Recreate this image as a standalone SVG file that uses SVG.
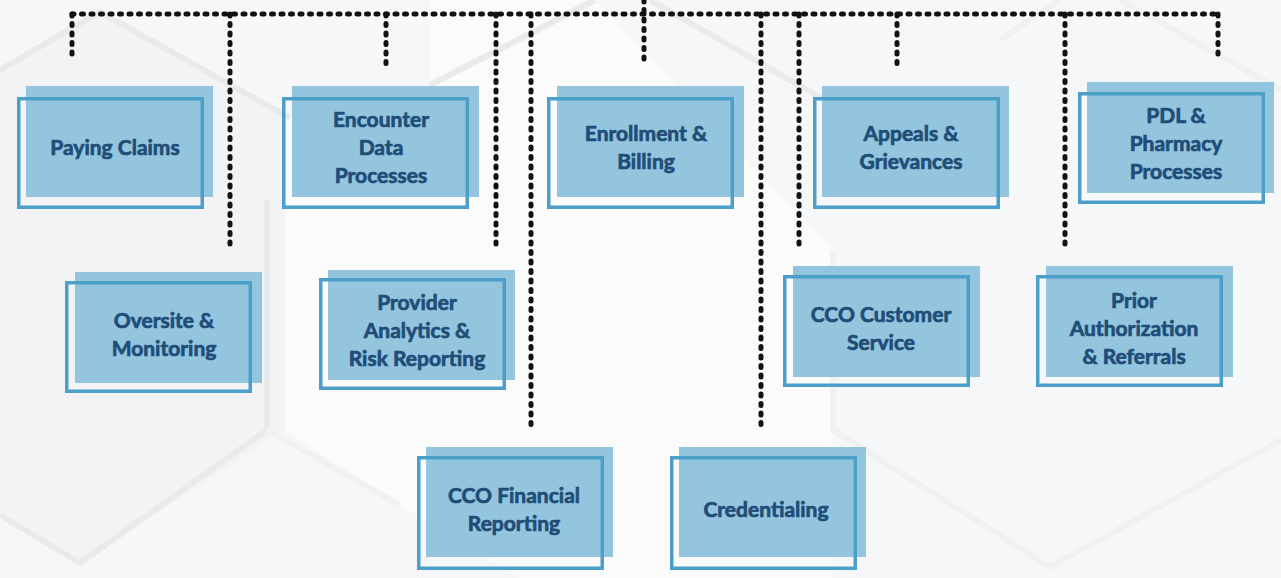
<svg xmlns="http://www.w3.org/2000/svg" width="1281" height="578" viewBox="0 0 1281 578">
<style>
.bgline{fill:none;stroke:#e9eaec;stroke-width:6;stroke-linejoin:miter}
.conn{fill:none;stroke:#111;stroke-width:5;stroke-linecap:round;stroke-dasharray:2 7.5}
.fill{fill:#93c5de}
.outl{fill:none;stroke:#4b9fc9;stroke-width:3.5}
.lbl{font-family:Lato,"Liberation Sans",sans-serif;font-weight:700;font-size:21px;fill:#1f4d78;stroke:#1f4d78;stroke-width:0.7;text-anchor:middle}
</style>
<rect x="0" y="0" width="1281" height="578" fill="#f6f7f8"/>
<g id="background">
<polygon points="0,70 100,12 285,118 285,430 80,563 0,515" fill="#f2f3f4"/>
<polygon points="285,118 285,430 400,505 520,578 833,578 833,250 595,0 430,0 430,85" fill="#fbfbfc"/>
<polyline class="bgline" points="0,70 100,12 290,118"/>
<polyline class="bgline" points="267,200 267,430 80,563 0,515"/>
<polyline class="bgline" points="267,430 400,505" style="stroke:#f0f1f2"/>
<polyline class="bgline" points="430,85 595,0"/>
<polyline class="bgline" points="650,0 860,120"/>
<polyline class="bgline" points="833,250 833,430 1050,567 1281,440" style="stroke:#f0f1f2"/>
<polyline class="bgline" points="1000,40 1060,0" style="stroke:#f0f1f2"/>
<polyline class="bgline" points="1120,0 1281,90" style="stroke:#f0f1f2"/>
</g>
<g id="connectors">
<line class="conn" x1="72" y1="14" x2="1218" y2="14"/>
<line class="conn" x1="72" y1="14" x2="72" y2="60"/>
<line class="conn" x1="230" y1="14" x2="230" y2="245"/>
<line class="conn" x1="386" y1="14" x2="386" y2="66"/>
<line class="conn" x1="496" y1="14" x2="496" y2="245"/>
<line class="conn" x1="531" y1="14" x2="531" y2="428"/>
<line class="conn" x1="644" y1="0" x2="644" y2="62"/>
<line class="conn" x1="761" y1="14" x2="761" y2="428"/>
<line class="conn" x1="799" y1="14" x2="799" y2="248"/>
<line class="conn" x1="897" y1="14" x2="897" y2="66"/>
<line class="conn" x1="1065" y1="14" x2="1065" y2="248"/>
<line class="conn" x1="1218" y1="14" x2="1218" y2="60"/>
</g>
<g id="paying-claims">
<rect class="fill" x="26" y="86" width="187" height="111"/>
<rect class="outl" x="18.75" y="98.75" width="183.5" height="108.5"/>
<text class="lbl" x="115" y="155">Paying Claims</text>
</g>
<g id="encounter-data">
<rect class="fill" x="292" y="86" width="187" height="111"/>
<rect class="outl" x="283.75" y="98.75" width="183.5" height="108.5"/>
<text class="lbl" x="381" y="127"><tspan x="381">Encounter</tspan><tspan x="381" dy="28">Data</tspan><tspan x="381" dy="28">Processes</tspan></text>
</g>
<g id="enrollment-billing">
<rect class="fill" x="557" y="86" width="187" height="111"/>
<rect class="outl" x="548.75" y="98.75" width="183.5" height="108.5"/>
<text class="lbl" x="646" y="141"><tspan x="646">Enrollment &amp;</tspan><tspan x="646" dy="28">Billing</tspan></text>
</g>
<g id="appeals-grievances">
<rect class="fill" x="822" y="86" width="187" height="111"/>
<rect class="outl" x="814.75" y="98.75" width="183.5" height="108.5"/>
<text class="lbl" x="911" y="141"><tspan x="911">Appeals &amp;</tspan><tspan x="911" dy="28">Grievances</tspan></text>
</g>
<g id="pdl-pharmacy">
<rect class="fill" x="1087" y="82" width="187" height="111"/>
<rect class="outl" x="1079.75" y="93.75" width="183.5" height="108.5"/>
<text class="lbl" x="1176" y="123"><tspan x="1176">PDL &amp;</tspan><tspan x="1176" dy="28">Pharmacy</tspan><tspan x="1176" dy="28">Processes</tspan></text>
</g>
<g id="oversite-monitoring">
<rect class="fill" x="75" y="272" width="187" height="111"/>
<rect class="outl" x="66.75" y="282.75" width="183.5" height="108.5"/>
<text class="lbl" x="164" y="328"><tspan x="164">Oversite &amp;</tspan><tspan x="164" dy="28">Monitoring</tspan></text>
</g>
<g id="provider-analytics">
<rect class="fill" x="328" y="270" width="187" height="110"/>
<rect class="outl" x="320.75" y="279.75" width="183.5" height="108.5"/>
<text class="lbl" x="417" y="310"><tspan x="417">Provider</tspan><tspan x="417" dy="28">Analytics &amp;</tspan><tspan x="417" dy="28">Risk Reporting</tspan></text>
</g>
<g id="cco-customer-service">
<rect class="fill" x="793" y="266" width="187" height="111"/>
<rect class="outl" x="784.75" y="276.75" width="183.5" height="108.5"/>
<text class="lbl" x="881" y="322"><tspan x="881">CCO Customer</tspan><tspan x="881" dy="28">Service</tspan></text>
</g>
<g id="prior-authorization">
<rect class="fill" x="1046" y="266" width="187" height="111"/>
<rect class="outl" x="1037.75" y="276.75" width="183.5" height="108.5"/>
<text class="lbl" x="1134" y="308"><tspan x="1134">Prior</tspan><tspan x="1134" dy="28">Authorization</tspan><tspan x="1134" dy="28">&amp; Referrals</tspan></text>
</g>
<g id="cco-financial-reporting">
<rect class="fill" x="426" y="447" width="187" height="110"/>
<rect class="outl" x="418.75" y="457.75" width="183.5" height="110.5"/>
<text class="lbl" x="514" y="503"><tspan x="514">CCO Financial</tspan><tspan x="514" dy="28">Reporting</tspan></text>
</g>
<g id="credentialing">
<rect class="fill" x="679" y="447" width="187" height="110"/>
<rect class="outl" x="671.75" y="457.75" width="183.5" height="110.5"/>
<text class="lbl" x="766" y="517">Credentialing</text>
</g>
</svg>
